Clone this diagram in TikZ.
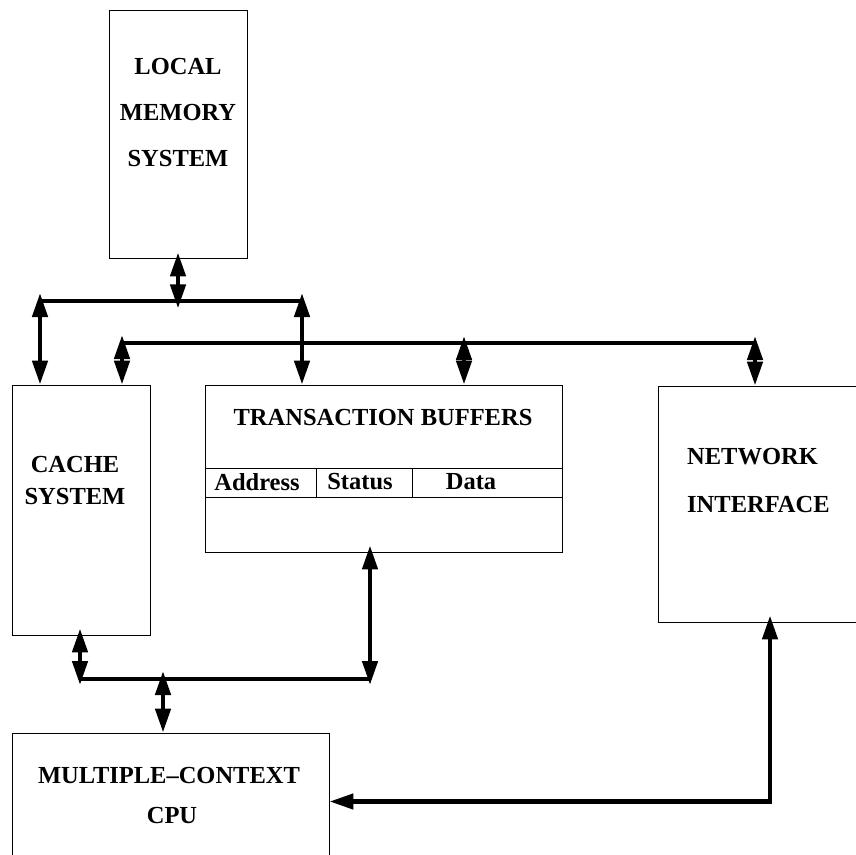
\documentclass[tikz,border=0pt]{standalone}
\usepackage{fontspec}
\setmainfont{Liberation Serif}
\usetikzlibrary{arrows.meta,calc}

\tikzset{
  box/.style={draw, line width=0.9pt, rectangle, inner sep=0pt, fill=none},
  lbl/.style={inner sep=0pt, font=\fontsize{24.5}{24.5}\selectfont\bfseries},
  bus/.style={line width=4.8pt, line cap=butt},
  tipend/.style={Triangle[length=24pt,width=15pt]},
  dbl/.style={line width=4.5pt, {Triangle[length=24pt,width=15pt]}-{Triangle[length=24pt,width=15pt]}},
  part/.style={line width=0.9pt}
}

\begin{document}
\begin{tikzpicture}[x=1pt,y=-1pt]
\useasboundingbox (0,0) rectangle (856,854);
\clip (0,0) rectangle (856,854);

% blocks
\node[box, minimum width=138pt, minimum height=248pt] (mem) at (178,134) {};
\node[box, minimum width=138pt, minimum height=250pt] (cache) at (81,510) {};
\node[box, minimum width=357pt, minimum height=167pt] (tb) at (383.5,468.5) {};
\node[box, minimum width=224pt, minimum height=236pt] (ni) at (770,504) {};
\node[box, minimum width=317pt, minimum height=137pt] (cpu) at (170.5,801.5) {};

% block labels
\node[lbl] (memA) at (178,67) {LOCAL};
\node[lbl] (memB) at (178,113) {MEMORY};
\node[lbl] (memC) at (178,159) {SYSTEM};
\node[lbl] (cacheA) at (75,465) {CACHE};
\node[lbl] (cacheB) at (75,497) {SYSTEM};
\node[lbl] (tbA) at (383,418) {TRANSACTION BUFFERS};
\node[lbl, anchor=west] (niA) at (687,457) {NETWORK};
\node[lbl, anchor=west] (niB) at (687,505) {INTERFACE};
\node[lbl] (cpuA) at (169,775) {MULTIPLE–CONTEXT};
\node[lbl] (cpuB) at (172,815) {CPU};

% buffer fields
\draw[part] (205,468) -- (562,468);
\draw[part] (205,497) -- (562,497);
\draw[part] (316,468) -- (316,497);
\draw[part] (412,468) -- (412,497);
\node[lbl] (fAddr) at (257,482) {Address};
\node[lbl] (fStat) at (360,482) {Status};
\node[lbl] (fData) at (471,482) {Data};

% memory bus
\coordinate (aL) at (40,293);
\coordinate (aR) at (302,293);
\draw[bus] (40,301) -- (302,301);
\draw[dbl, shorten <=-6pt] (mem.south) -- ++(0,50);
\draw[dbl] (aL) -- (aL |- cache.north);
\draw[dbl] (aR) -- (aR |- tb.north);

% network bus
\coordinate (bL) at (122,335);
\coordinate (bM) at (464,336);
\coordinate (bR) at (755,336);
\draw[bus] (122,343) -- (755,343);
\draw[dbl] (bL) -- (bL |- cache.north);
\draw[dbl] (bM) -- (bM |- tb.north);
\draw[dbl] (bR) -- (bR |- ni.north);

% processor bus
\coordinate (cL) at (80,685);
\coordinate (cM) at (163,671);
\coordinate (cR) at (370,685);
\draw[bus] (80,679) -- (370,679);
\draw[dbl, shorten <=-7pt] (cL |- cache.south) -- (cL);
\draw[dbl, shorten <=-7pt] (cR |- tb.south) -- (cR);
\draw[dbl] (cM) -- (cM |- cpu.north);

% network to processor
\draw[dbl, line join=miter, shorten <=-7pt] (ni.south) |- (cpu.east);
\end{tikzpicture}
\end{document}
